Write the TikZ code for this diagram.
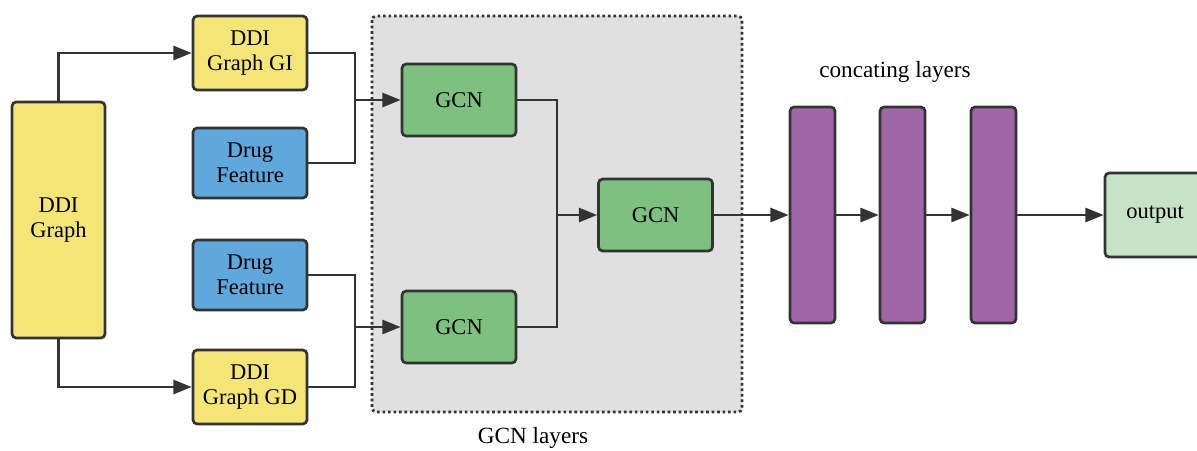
\documentclass[tikz,border=0pt]{standalone}
\usepackage{fontspec}
\setmainfont{Liberation Serif}
\usetikzlibrary{arrows.meta}

\definecolor{ddiyellow}{HTML}{F3E677}
\definecolor{drugblue}{HTML}{5FA8DC}
\definecolor{gcngreen}{HTML}{7DC07F}
\definecolor{concpurple}{HTML}{A066A6}
\definecolor{outgreen}{HTML}{C6E3C8}
\definecolor{layergray}{HTML}{E0E0E0}
\definecolor{edge}{HTML}{333333}

\tikzset{
    box/.style={draw=edge, line width=1.9pt, rounded corners=3pt, align=center,
        font=\fontsize{16}{18}\selectfont, inner sep=0pt},
    ddibox/.style={box, fill=ddiyellow, minimum width=2.85cm, minimum height=1.85cm},
    drugbox/.style={box, fill=drugblue, minimum width=2.85cm, minimum height=1.75cm},
    gcnbox/.style={box, fill=gcngreen, minimum width=2.85cm, minimum height=1.8cm},
    concbar/.style={box, fill=concpurple, minimum width=1.125cm, minimum height=5.4cm},
    link/.style={draw=edge, line width=1.9pt},
    arr/.style={link, -{Triangle[length=13pt,width=10pt]}},
    caption/.style={font=\fontsize{16.5}{18}\selectfont}
}

\begin{document}
\begin{tikzpicture}[x=0.025cm, y=-0.025cm]
    \useasboundingbox (0,0) rectangle (1197,450);

    % GCN layer group
    \draw[edge, fill=layergray, line width=1.9pt, dotted, rounded corners=3pt] (372,16) rectangle (742,412);
    \node[caption] (gcnlabel) at (533,438) {GCN layers};
    \node[caption] (conclabel) at (895,72) {concating layers};

    % inputs
    \node[box, fill=ddiyellow, minimum width=2.325cm, minimum height=5.9cm] (ddi) at (58.5,220) {DDI\\Graph};
    \node[ddibox] (gi) at (250,53) {DDI\\Graph GI};
    \node[drugbox] (feat1) at (250,163) {Drug\\Feature};
    \node[drugbox] (feat2) at (250,275) {Drug\\Feature};
    \node[ddibox] (gd) at (250,387) {DDI\\Graph GD};

    % GCN layers
    \node[gcnbox] (gcn1) at (459,100) {GCN};
    \node[gcnbox] (gcn2) at (459,327) {GCN};
    \node[gcnbox] (gcn3) at (655.5,215) {GCN};

    % concating layers and output
    \node[concbar] (bar1) at (812.5,215) {};
    \node[concbar] (bar2) at (902.5,215) {};
    \node[concbar] (bar3) at (993.5,215) {};
    \node[box, fill=outgreen, minimum width=2.5cm, minimum height=2.1cm] (out) at (1155,215) {output};

    % junctions
    \coordinate (j1) at (355,100);
    \coordinate (j2) at (355,327);
    \coordinate (j3) at (557,215);

    \draw[arr] (ddi.north) |- (gi.west);
    \draw[arr] (ddi.south) |- (gd.west);

    \draw[link] (gi.east) -| (j1);
    \draw[link] (feat1.east) -| (j1);
    \draw[arr] (j1) -- (gcn1.west);

    \draw[link] (feat2.east) -| (j2);
    \draw[link] (gd.east) -| (j2);
    \draw[arr] (j2) -- (gcn2.west);

    \draw[link] (gcn1.east) -| (j3);
    \draw[link] (gcn2.east) -| (j3);
    \draw[arr] (j3) -- (gcn3.west);

    \draw[arr] (gcn3) -- (bar1);
    \draw[arr] (bar1) -- (bar2);
    \draw[arr] (bar2) -- (bar3);
    \draw[arr] (bar3) -- (out);
\end{tikzpicture}
\end{document}
